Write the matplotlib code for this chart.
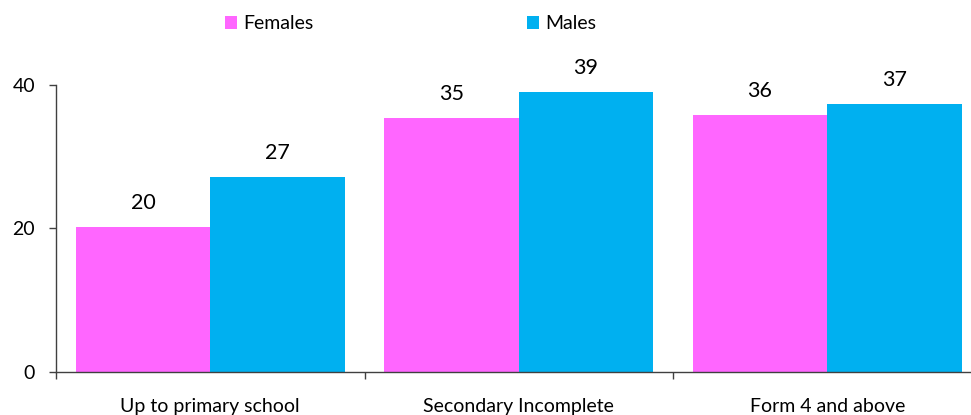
import matplotlib
matplotlib.use("Agg")
import matplotlib.pyplot as plt
import numpy as np

# survey shares by education level
categories = ["Up to primary school", "Secondary Incomplete", "Form 4 and above"]
females = [20.2, 35.4, 35.8]
males = [27.2, 39.0, 37.4]
series_names = ["Females", "Males"]
colors = ["#FF66FF", "#00B0F0"]

plt.rcParams["font.family"] = ["Lato", "DejaVu Sans"]
axis_color = "#404040"

fig = plt.figure(figsize=(9.71, 4.15), dpi=100)
ax = fig.add_axes([0.0577, 0.1036, 0.9423, 0.6916])

x = np.arange(len(categories))
width = 0.436
bars_f = ax.bar(x - width / 2, females, width, color=colors[0], label=series_names[0])
bars_m = ax.bar(x + width / 2, males, width, color=colors[1], label=series_names[1])

for bars in (bars_f, bars_m):
    for b in bars:
        ax.annotate(f"{b.get_height():.0f}",
                    (b.get_x() + b.get_width() / 2, b.get_height()),
                    xytext=(0, 10), textcoords="offset points",
                    ha="center", va="bottom", fontsize=15.5,
                    color="#000000", annotation_clip=False)

ax.set_yticks([0, 20, 40])
ax.set_xticks(x)
ax.set_xticklabels(categories, fontsize=14)
# category boundaries get the small downward ticks
ax.set_xticks(x - 0.5, minor=True)
# limits after the ticks, otherwise set_xticks widens the view
ax.set_xlim(-0.5, 2.466)
ax.set_ylim(0, 40)

ax.tick_params(axis="x", which="major", length=0, pad=18.5)
ax.tick_params(axis="x", which="minor", length=5, width=1.0,
               direction="out", color=axis_color)
ax.tick_params(axis="y", length=5, width=1.0, pad=10,
               labelsize=14, color=axis_color)

for side in ("top", "right"):
    ax.spines[side].set_visible(False)
for side in ("left", "bottom"):
    ax.spines[side].set_color(axis_color)
    ax.spines[side].set_linewidth(1.0)

fig.legend(handles=[bars_f, bars_m], labels=series_names,
           loc="center", bbox_to_anchor=(0.423, 0.943), ncol=2,
           frameon=False, fontsize=14, columnspacing=11,
           handlelength=0.62, handleheight=0.62, handletextpad=0.3)

fig.savefig("out.png", dpi=100)
